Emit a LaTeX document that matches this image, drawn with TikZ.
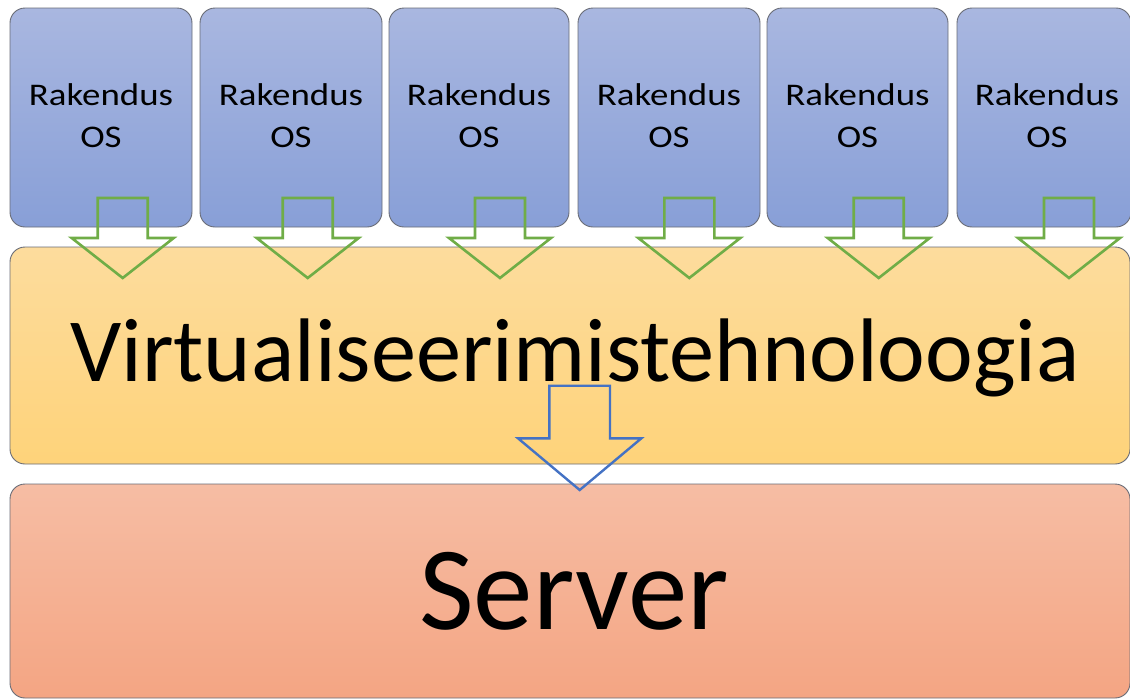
\documentclass[tikz,border=0pt]{standalone}
\usepackage{fontspec}
\setmainfont{Carlito}
\usetikzlibrary{calc}

\definecolor{appTop}{RGB}{169,183,224}
\definecolor{appBot}{RGB}{136,159,215}
\definecolor{virtTop}{RGB}{253,220,157}
\definecolor{virtBot}{RGB}{254,211,122}
\definecolor{srvTop}{RGB}{246,189,164}
\definecolor{srvBot}{RGB}{244,165,131}
\definecolor{edgeGray}{RGB}{105,108,118}
\definecolor{arrowGreen}{RGB}{112,173,71}
\definecolor{arrowBlue}{RGB}{68,114,196}

% labels in the small boxes are set slightly wide
\newcommand\widelabel[1]{\scalebox{1.17}[1]{#1}}

\tikzset{
  panel/.style={rectangle, rounded corners=15pt, draw=edgeGray, line width=0.9pt, inner sep=0pt},
  appbox/.style={panel, top color=appTop, bottom color=appBot, minimum height=219pt},
  virtbox/.style={panel, top color=virtTop, bottom color=virtBot},
  srvbox/.style={panel, top color=srvTop, bottom color=srvBot},
  apptext/.style={anchor=base, inner sep=0pt, font=\fontsize{31.5}{31.5}\selectfont},
  bigtext/.style={anchor=base, inner sep=0pt},
  pics/greenarrow/.style={code={
    \draw[arrowGreen, line width=2.6pt, line join=miter]
      (-25,0) -- (25,0) -- (25,40) -- (51,40) -- (0,80) -- (-51,40) -- (-25,40) -- cycle;}},
  pics/bluearrow/.style={code={
    \draw[arrowBlue, line width=2.4pt, line join=miter]
      (-30.3,0) -- (30.3,0) -- (30.3,52.6) -- (61.7,52.6) -- (0,104.3)
      -- (-61.7,52.6) -- (-30.3,52.6) -- cycle;}},
}

\begin{document}
\begin{tikzpicture}[x=1pt,y=-1pt]
\useasboundingbox (0,0) rectangle (1130,699);

% virtual machines: application + OS
\foreach \l/\r/\tx/\ax [count=\i] in
  {10/192/101/122.7, 200/382/291/307.7, 389/569/479/500,
   578/760/669/689.3, 767/948/857.5/878.7, 957/1131/1047/1069}{
  \node[appbox, minimum width={(\r-\l)*1pt}] (b\i) at ({(\l+\r)/2},117.5) {};
  \node[apptext] (r\i) at (\tx,105.5) {\widelabel{Rakendus}};
  \node[apptext] (o\i) at (\tx,147) {\widelabel{OS}};
}

% virtualisation layer
\node[virtbox, minimum width=1120pt, minimum height=217pt] (virt) at (570,355.5) {};
\node[bigtext, font=\fontsize{90.3}{90.3}\selectfont] (virtlabel) at (575,381) {Virtualiseerimistehnoloogia};

% hardware
\node[srvbox, minimum width=1120pt, minimum height=214pt] (srv) at (570,591) {};
\node[bigtext, font=\fontsize{119}{119}\selectfont] (srvlabel) at (574,629) {Server};

% block arrows
\foreach \ax in {122.7,307.7,500,689.3,878.7,1069}{
  \pic at (\ax,198) {greenarrow};
}
\pic at (579.7,385.7) {bluearrow};
\end{tikzpicture}
\end{document}
